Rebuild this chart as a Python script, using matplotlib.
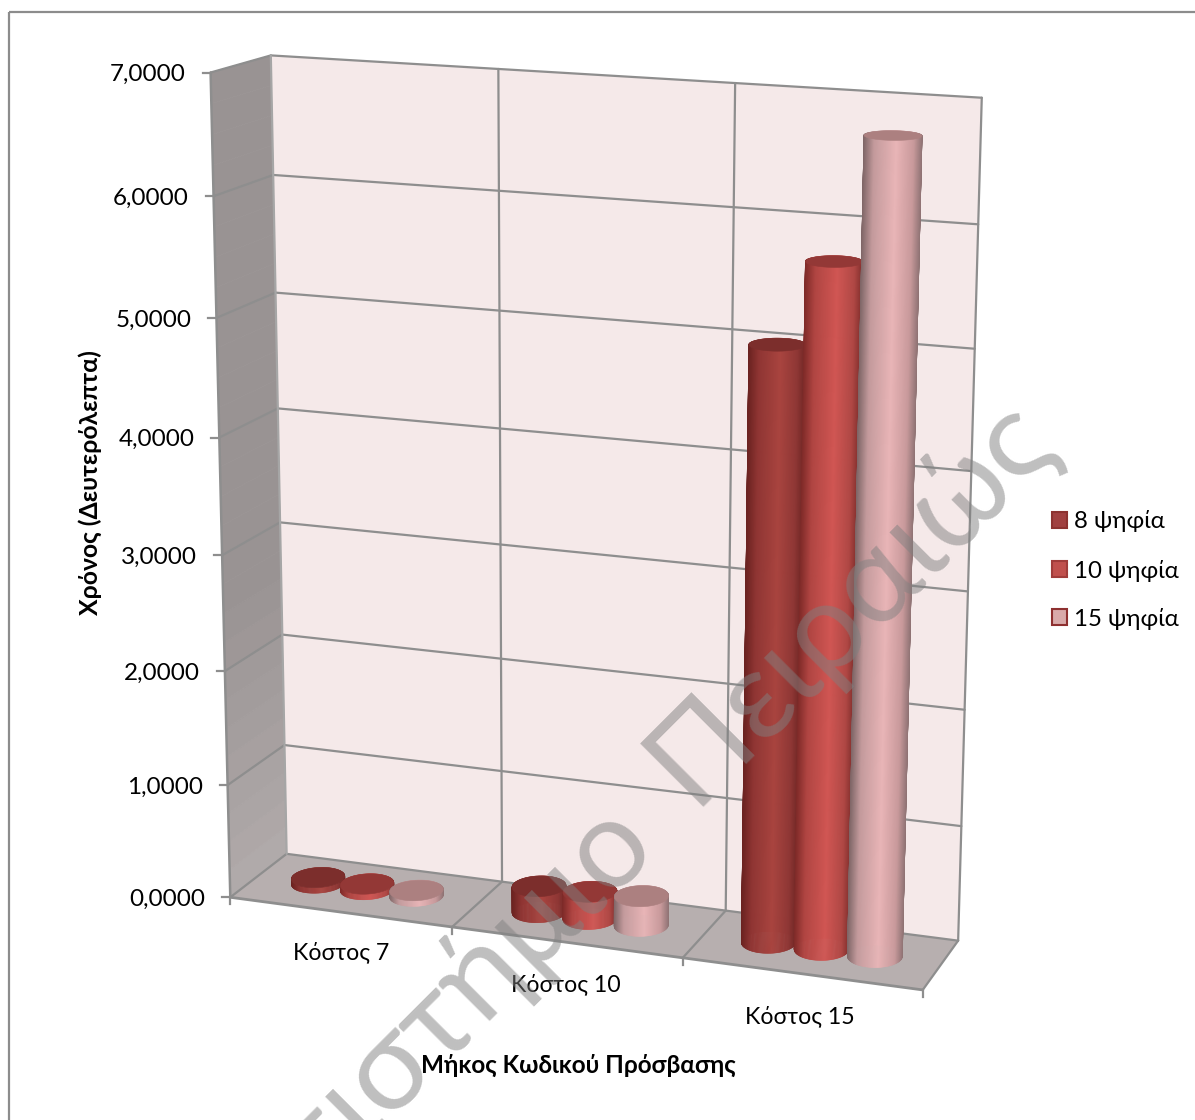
import numpy as np
import matplotlib
matplotlib.use("Agg")
import matplotlib.pyplot as plt
from matplotlib.collections import PolyCollection
from matplotlib.patches import Polygon, Rectangle

plt.rcParams['font.family'] = ['Lato', 'Open Sans', 'DejaVu Sans']

# Chart data
categories = ["Κόστος 7", "Κόστος 10", "Κόστος 15"]
series_names = ["8 ψηφία", "10 ψηφία", "15 ψηφία"]
digits_8 = [0.05, 0.23, 5.03]
digits_10 = [0.05, 0.24, 5.73]
digits_15 = [0.05, 0.26, 6.75]
value_ticks = [0, 1, 2, 3, 4, 5, 6, 7]
tick_labels = ["0,0000", "1,0000", "2,0000", "3,0000", "4,0000", "5,0000", "6,0000", "7,0000"]

# Known box landmarks: (category position, depth, value) -> screen position
anchors = [
    ((0, 0, 0), (233, 898)), ((1, 0, 0), (452, 927)), ((2, 0, 0), (682, 958)), ((3, 0, 0), (921, 992)),
    ((0, 1, 0), (288, 855)), ((1, 1, 0), (502, 882)), ((2, 1, 0), (725, 911)), ((3, 1, 0), (958, 940)),
    ((0, 1, 7), (270, 55)), ((1, 1, 7), (497, 71)), ((2, 1, 7), (735, 85)), ((3, 1, 7), (985, 101)),
    ((0, 0, 7), (211, 72)), ((0, 0, 6), (213, 196)), ((0, 0, 3), (222, 553)), ((0, 1, 3), (279, 522)),
    ((3, 1, 3), (968, 589)), ((0, 1, 5), (275, 292)), ((3, 1, 5), (975, 344)),
]


def fit_camera(pairs):
    rows = []
    for (a, b, c), (u, v) in pairs:
        p = [a, b, c, 1]
        rows.append(p + [0, 0, 0, 0] + [-u * q for q in p])
        rows.append([0, 0, 0, 0] + p + [-v * q for q in p])
    rows = np.array(rows, float)
    scale = rows.max(axis=0)
    scale[scale == 0] = 1
    _, _, vt = np.linalg.svd(rows / scale)
    return (vt[-1] / scale).reshape(3, 4)


CAM = fit_camera(anchors)


def project(x, d, v):
    x, d, v = np.broadcast_arrays(np.asarray(x, float), np.asarray(d, float), np.asarray(v, float))
    h = CAM @ np.stack([x.ravel(), d.ravel(), v.ravel(), np.ones(x.size)])
    return np.column_stack([h[0] / h[2], h[1] / h[2]]).reshape(x.shape + (2,))


fig = plt.figure(figsize=(11.95, 11.2), dpi=100)
ax = fig.add_axes([0, 0, 1, 1])
ax.set_xlim(0, 1195)
ax.set_ylim(1120, 0)
ax.axis("off")

GRID = "#8e8e8e"
ax.add_patch(Rectangle((9.5, 12), 1300, 1300, fill=False, ec="#8c8c8c", lw=1.6, zorder=1))

# Box faces
ax.add_patch(Polygon(project([0, 3, 3, 0], 1, [0, 0, 7, 7]), fc="#f5e9e9", ec="none", zorder=2))
ax.add_patch(Polygon(project([0, 3, 3, 0], [0, 0, 1, 1], 0), fc="#b7afaf", ec="none", zorder=2))
band_edges = np.linspace(0, 7, 29)
side_quads = [project(0, [0, 1, 1, 0], [a, a, b, b]) for a, b in zip(band_edges[:-1], band_edges[1:])]
side_cols = [np.array([0.69, 0.665, 0.665]) + (np.array([0.60, 0.575, 0.575]) - np.array([0.69, 0.665, 0.665])) * min(1, a / 2.5)
             for a in band_edges[:-1]]
ax.add_collection(PolyCollection(side_quads, facecolors=side_cols, edgecolors=side_cols, lw=0.5, zorder=2))


def seg(xs, ds, vs, lw=1.6, color=GRID, z=3):
    pts = project(xs, ds, vs)
    ax.plot(pts[:, 0], pts[:, 1], color=color, lw=lw, zorder=z, solid_capstyle="round")


# Gridlines and box edges
for t in value_ticks:
    seg([0, 3], [1, 1], [t, t])
    seg([0, 0], [0, 1], [t, t])
for c in range(1, 3):
    seg([c, c], [1, 1], [0, 7])
    seg([c, c], [0, 1], [0, 0])
seg([3, 3], [1, 1], [0, 7])
seg([3, 3], [0, 1], [0, 0])
seg([0, 0], [1, 1], [0, 7], color="#a6a6a6")
seg([0, 0], [0, 0], [0, 7], lw=1.8)
seg([0, 3], [0, 0], [0, 0], lw=2.0)

# Axis ticks
for t in value_ticks:
    px, py = project(0, 0, t)
    ax.plot([px - 8, px], [py, py], color=GRID, lw=1.6, zorder=3)
for c in range(4):
    px, py = project(c, 0, 0)
    ax.plot([px, px], [py, py + 7], color=GRID, lw=1.6, zorder=3)

# Series colour ramps, left edge to right edge of the cylinder
stops = [0.0, 0.18, 0.55, 0.85, 1.0]
ramps = [
    ["#6a2220", "#8f3533", "#a9443f", "#8f3735", "#6e2725"],
    ["#7e2a28", "#b04542", "#d15653", "#b04845", "#7e2d2b"],
    ["#7f6667", "#c49b9d", "#e9b5b7", "#c99a9c", "#8f7374"],
]
top_colors = ["#7c2e2c", "#933836", "#ac8080"]
legend_fill = ["#a04040", "#c0504d", "#d9aaaa"]
legend_edge = ["#8c3230", "#a03c3a", "#8e3030"]


def hex_rgb(c):
    return np.array(matplotlib.colors.to_rgb(c))


def cylinder(xc, value, ramp, top, z):
    rx, rd = 0.11, 0.22
    th = np.linspace(0, 2 * np.pi, 181)
    xs = xc + rx * np.cos(th)
    ds = 0.5 + rd * np.sin(th)
    low = project(xs, ds, 0)
    high = project(xs, ds, value)
    xmin, xmax = low[:, 0].min(), low[:, 0].max()
    u = np.clip((low[:, 0] - xmin) / (xmax - xmin), 0, 1)
    rgb = np.array([hex_rgb(c) for c in ramp])
    order = np.argsort(-np.sin(th[:-1]))
    quads, cols = [], []
    for i in order:
        quads.append([low[i], low[i + 1], high[i + 1], high[i]])
        m = 0.5 * (u[i] + u[i + 1])
        cols.append([np.interp(m, stops, rgb[:, k]) for k in range(3)])
    ax.add_collection(PolyCollection(quads, facecolors=cols, edgecolors=cols, lw=0.4, zorder=z))
    ax.add_patch(Polygon(high, fc=top, ec=top, lw=0.4, zorder=z + 0.01))


values = [digits_8, digits_10, digits_15]
spacing = 0.225
for c in range(len(categories)):
    for s in range(3):
        cylinder(c + 0.5 + (s - 1) * spacing, values[s][c], ramps[s], top_colors[s], 5 + c + s * 0.1)

# Text
for t, lab in zip(value_ticks, tick_labels):
    px, py = project(0, 0, t)
    ax.text(px - 25, py + 2, lab, ha="right", va="center", fontsize=17.5, color="black", zorder=20)
for lab, (cx, cy) in zip(categories, [(341, 952), (566, 984), (800, 1016)]):
    ax.text(cx, cy, lab, ha="center", va="center", fontsize=16.7, color="black", zorder=20)
ax.text(578, 1065, "Μήκος Κωδικού Πρόσβασης", ha="center", va="center", fontsize=17.5,
        fontweight="bold", color="black", zorder=20)
ax.text(90, 483, "Χρόνος (Δευτερόλεπτα)", ha="center", va="center", rotation=90, fontsize=17.8,
        fontweight="bold", color="black", zorder=20)

# Legend
for name, fc, ec, y in zip(series_names, legend_fill, legend_edge, [520, 569, 617]):
    ax.add_patch(Rectangle((1052, y - 8), 15.5, 15.5, fc=fc, ec=ec, lw=1.5, zorder=20))
    ax.text(1074, y + 1.5, name, ha="left", va="center", fontsize=17.3, color="black", zorder=20)

# Overlaid institutional stamp
stamp = dict(rotation=45, rotation_mode="anchor", va="baseline", fontsize=90,
             color="#808080", alpha=0.5, zorder=30, clip_on=True)
ax.text(693, 807, "Πειραιώς", ha="left", **stamp)
ax.text(657, 843, "Πανεπιστήμιο", ha="right", **stamp)

fig.savefig("out.png", dpi=100)
